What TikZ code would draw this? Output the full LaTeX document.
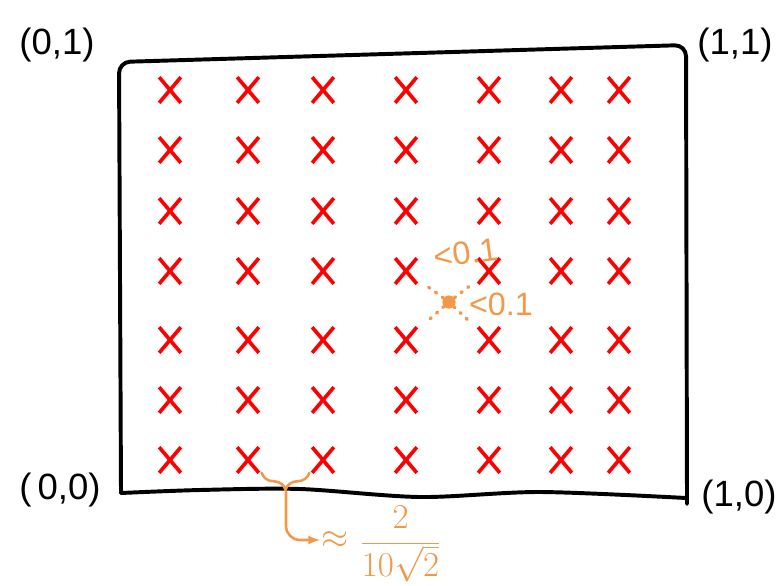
\documentclass[tikz,border=0pt]{standalone}
\usepackage{fontspec}
\setmainfont{Liberation Sans}
\usetikzlibrary{shapes.misc, arrows.meta, positioning, decorations.pathreplacing}
\definecolor{noteorange}{RGB}{242,152,72}
\tikzstyle{cross}=[draw=red, cross out, line width=2.6pt, minimum width=4.5mm, minimum height=5.5mm, inner sep=0pt]
\tikzstyle{corner}=[font=\fontsize{26}{26}\selectfont]
\tikzstyle{note}=[text=noteorange, font=\fontsize{23}{23}\selectfont, inner sep=1pt]
\tikzstyle{hint}=[noteorange, line width=1.8pt, line cap=round]

\begin{document}
\begin{tikzpicture}[x=0.025cm, y=-0.025cm, >=latex]
    \useasboundingbox (0,0) rectangle (780,585);
    % sample points
    \foreach \x [count=\i] in {170,248,323,406,489,561,619}
        \foreach \y [count=\j] in {90,150,211,271,340,400,460}
            \node[cross] (c\i\j) at (\x,\y) {};
    % unit square
    \coordinate (sw) at (121,493);
    \coordinate (nw) at (119,62);
    \coordinate (ne) at (686,45);
    \coordinate (se) at (687,504);
    \draw[line width=2.8pt, line cap=round, line join=round, rounded corners=8]
        (sw) -- (nw) -- (ne) -- (se);
    \draw[line width=2.8pt, line cap=round] plot[smooth] coordinates
        {(sw) (200,490) (300,489) (420,497) (540,492) (686,498)};
    \node[corner] (l00) at (60,490) {(\,0,0)};
    \node[corner] (l01) at (57,45) {(0,1)};
    \node[corner] (l11) at (735,45) {(1,1)};
    \node[corner] (l10) at (739,497) {(1,0)};
    % distance to the neighbours
    \node[circle, fill=noteorange, inner sep=0pt, minimum size=3.3mm] (p) at (449,302) {};
    \foreach \c in {c44,c54,c45,c55}
        \draw[hint, line width=2.4pt, dash pattern=on 1pt off 5pt, shorten >=3mm] (p) -- (\c);
    \node[note, rotate=8] (d1) at (466,253) {<0.1};
    \node[note] (d2) at (501,304) {<0.1};
    % spacing
    \draw[hint, decorate, decoration={brace, mirror, amplitude=12pt}]
        ([xshift=2pt]c27.south east) -- ([xshift=-2pt]c37.south west);
    \coordinate (bt) at (286,492);
    \node[note, anchor=west, font=\fontsize{26}{26}\selectfont] (approx) at (320,540) {$\approx$};
    \node[note, right=2mm of approx, yshift=-1mm, font=\fontsize{24}{24}\selectfont] (frac) {$\displaystyle\frac{2}{10\sqrt{2}}$};
    \draw[hint, ->, rounded corners=10] (bt) -- (286,540) -- (approx.west);
\end{tikzpicture}
\end{document}
